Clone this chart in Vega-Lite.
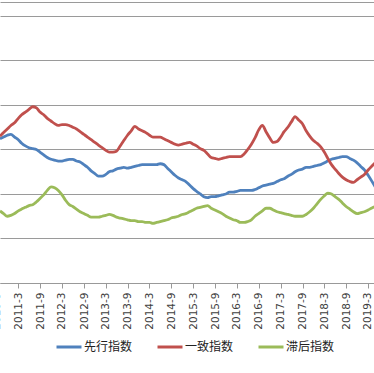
{
"$schema": "https://vega.github.io/schema/vega-lite/v6.json",
"width": 374, "height": 281,
"autosize": {"type": "none"},
"padding": {"top": 2, "left": 0, "right": 0, "bottom": 90},
"background": "white",
"config": {"view": {"stroke": null}, "font": "DejaVu Sans"},
"data": {"values": [
{"d":"2010/09/01","先行指数":101.2,"一致指数":101.5,"滞后指数":93.1},
{"d":"2010/10/01","先行指数":101.4,"一致指数":101.9,"滞后指数":92.8},
{"d":"2010/11/01","先行指数":101.6,"一致指数":102.3,"滞后指数":92.5},
{"d":"2010/12/01","先行指数":101.7,"一致指数":102.7,"滞后指数":92.6},
{"d":"2011/01/01","先行指数":101.4,"一致指数":103.0,"滞后指数":92.8},
{"d":"2011/02/01","先行指数":101.1,"一致指数":103.5,"滞后指数":93.1},
{"d":"2011/03/01","先行指数":100.7,"一致指数":103.9,"滞后指数":93.3},
{"d":"2011/04/01","先行指数":100.4,"一致指数":104.2,"滞后指数":93.5},
{"d":"2011/05/01","先行指数":100.2,"一致指数":104.5,"滞后指数":93.7},
{"d":"2011/06/01","先行指数":100.1,"一致指数":104.8,"滞后指数":93.8},
{"d":"2011/07/01","先行指数":100.0,"一致指数":104.7,"滞后指数":94.1},
{"d":"2011/08/01","先行指数":99.7,"一致指数":104.2,"滞后指数":94.5},
{"d":"2011/09/01","先行指数":99.4,"一致指数":103.9,"滞后指数":94.9},
{"d":"2011/10/01","先行指数":99.1,"一致指数":103.5,"滞后指数":95.4},
{"d":"2011/11/01","先行指数":98.9,"一致指数":103.2,"滞后指数":95.8},
{"d":"2011/12/01","先行指数":98.8,"一致指数":102.9,"滞后指数":95.7},
{"d":"2012/01/01","先行指数":98.7,"一致指数":102.7,"滞后指数":95.4},
{"d":"2012/02/01","先行指数":98.7,"一致指数":102.8,"滞后指数":94.9},
{"d":"2012/03/01","先行指数":98.8,"一致指数":102.8,"滞后指数":94.3},
{"d":"2012/04/01","先行指数":98.9,"一致指数":102.7,"滞后指数":93.8},
{"d":"2012/05/01","先行指数":98.9,"一致指数":102.5,"滞后指数":93.6},
{"d":"2012/06/01","先行指数":98.7,"一致指数":102.3,"滞后指数":93.3},
{"d":"2012/07/01","先行指数":98.6,"一致指数":102.0,"滞后指数":93.0},
{"d":"2012/08/01","先行指数":98.3,"一致指数":101.7,"滞后指数":92.8},
{"d":"2012/09/01","先行指数":98.0,"一致指数":101.4,"滞后指数":92.6},
{"d":"2012/10/01","先行指数":97.6,"一致指数":101.1,"滞后指数":92.4},
{"d":"2012/11/01","先行指数":97.3,"一致指数":100.8,"滞后指数":92.4},
{"d":"2012/12/01","先行指数":97.0,"一致指数":100.5,"滞后指数":92.4},
{"d":"2013/01/01","先行指数":97.0,"一致指数":100.2,"滞后指数":92.5},
{"d":"2013/02/01","先行指数":97.2,"一致指数":99.9,"滞后指数":92.6},
{"d":"2013/03/01","先行指数":97.5,"一致指数":99.7,"滞后指数":92.7},
{"d":"2013/04/01","先行指数":97.6,"一致指数":99.7,"滞后指数":92.6},
{"d":"2013/05/01","先行指数":97.8,"一致指数":99.8,"滞后指数":92.4},
{"d":"2013/06/01","先行指数":97.9,"一致指数":100.4,"滞后指数":92.3},
{"d":"2013/07/01","先行指数":98.0,"一致指数":101.0,"滞后指数":92.2},
{"d":"2013/08/01","先行指数":97.9,"一致指数":101.6,"滞后指数":92.1},
{"d":"2013/09/01","先行指数":98.0,"一致指数":102.1,"滞后指数":92.0},
{"d":"2013/10/01","先行指数":98.1,"一致指数":102.6,"滞后指数":92.0},
{"d":"2013/11/01","先行指数":98.2,"一致指数":102.3,"滞后指数":91.9},
{"d":"2013/12/01","先行指数":98.3,"一致指数":102.1,"滞后指数":91.9},
{"d":"2014/01/01","先行指数":98.3,"一致指数":101.9,"滞后指数":91.8},
{"d":"2014/02/01","先行指数":98.3,"一致指数":101.6,"滞后指数":91.8},
{"d":"2014/03/01","先行指数":98.3,"一致指数":101.4,"滞后指数":91.7},
{"d":"2014/04/01","先行指数":98.3,"一致指数":101.4,"滞后指数":91.8},
{"d":"2014/05/01","先行指数":98.4,"一致指数":101.4,"滞后指数":91.9},
{"d":"2014/06/01","先行指数":98.3,"一致指数":101.2,"滞后指数":92.0},
{"d":"2014/07/01","先行指数":97.9,"一致指数":101.0,"滞后指数":92.1},
{"d":"2014/08/01","先行指数":97.5,"一致指数":100.8,"滞后指数":92.3},
{"d":"2014/09/01","先行指数":97.1,"一致指数":100.6,"滞后指数":92.4},
{"d":"2014/10/01","先行指数":96.8,"一致指数":100.5,"滞后指数":92.5},
{"d":"2014/11/01","先行指数":96.6,"一致指数":100.6,"滞后指数":92.7},
{"d":"2014/12/01","先行指数":96.4,"一致指数":100.7,"滞后指数":92.8},
{"d":"2015/01/01","先行指数":96.0,"一致指数":100.8,"滞后指数":93.0},
{"d":"2015/02/01","先行指数":95.6,"一致指数":100.6,"滞后指数":93.2},
{"d":"2015/03/01","先行指数":95.3,"一致指数":100.4,"滞后指数":93.4},
{"d":"2015/04/01","先行指数":95.0,"一致指数":100.1,"滞后指数":93.5},
{"d":"2015/05/01","先行指数":94.7,"一致指数":99.9,"滞后指数":93.6},
{"d":"2015/06/01","先行指数":94.6,"一致指数":99.5,"滞后指数":93.7},
{"d":"2015/07/01","先行指数":94.7,"一致指数":99.1,"滞后指数":93.4},
{"d":"2015/08/01","先行指数":94.7,"一致指数":99.0,"滞后指数":93.2},
{"d":"2015/09/01","先行指数":94.8,"一致指数":98.9,"滞后指数":93.0},
{"d":"2015/10/01","先行指数":94.9,"一致指数":99.0,"滞后指数":92.8},
{"d":"2015/11/01","先行指数":95.0,"一致指数":99.1,"滞后指数":92.5},
{"d":"2015/12/01","先行指数":95.2,"一致指数":99.2,"滞后指数":92.3},
{"d":"2016/01/01","先行指数":95.2,"一致指数":99.2,"滞后指数":92.1},
{"d":"2016/02/01","先行指数":95.3,"一致指数":99.2,"滞后指数":92.0},
{"d":"2016/03/01","先行指数":95.4,"一致指数":99.2,"滞后指数":91.8},
{"d":"2016/04/01","先行指数":95.4,"一致指数":99.5,"滞后指数":91.8},
{"d":"2016/05/01","先行指数":95.4,"一致指数":100.0,"滞后指数":91.9},
{"d":"2016/06/01","先行指数":95.4,"一致指数":100.6,"滞后指数":92.1},
{"d":"2016/07/01","先行指数":95.5,"一致指数":101.3,"滞后指数":92.5},
{"d":"2016/08/01","先行指数":95.7,"一致指数":102.2,"滞后指数":92.8},
{"d":"2016/09/01","先行指数":95.9,"一致指数":102.7,"滞后指数":93.1},
{"d":"2016/10/01","先行指数":96.0,"一致指数":102.0,"滞后指数":93.4},
{"d":"2016/11/01","先行指数":96.1,"一致指数":101.3,"滞后指数":93.4},
{"d":"2016/12/01","先行指数":96.2,"一致指数":100.8,"滞后指数":93.2},
{"d":"2017/01/01","先行指数":96.4,"一致指数":100.9,"滞后指数":93.0},
{"d":"2017/02/01","先行指数":96.6,"一致指数":101.4,"滞后指数":92.9},
{"d":"2017/03/01","先行指数":96.7,"一致指数":102.0,"滞后指数":92.8},
{"d":"2017/04/01","先行指数":97.0,"一致指数":102.5,"滞后指数":92.7},
{"d":"2017/05/01","先行指数":97.2,"一致指数":103.1,"滞后指数":92.6},
{"d":"2017/06/01","先行指数":97.5,"一致指数":103.7,"滞后指数":92.5},
{"d":"2017/07/01","先行指数":97.7,"一致指数":103.3,"滞后指数":92.5},
{"d":"2017/08/01","先行指数":97.8,"一致指数":102.9,"滞后指数":92.5},
{"d":"2017/09/01","先行指数":98.0,"一致指数":102.1,"滞后指数":92.7},
{"d":"2017/10/01","先行指数":98.0,"一致指数":101.5,"滞后指数":93.0},
{"d":"2017/11/01","先行指数":98.1,"一致指数":101.0,"滞后指数":93.4},
{"d":"2017/12/01","先行指数":98.2,"一致指数":100.7,"滞后指数":93.9},
{"d":"2018/01/01","先行指数":98.3,"一致指数":100.3,"滞后指数":94.4},
{"d":"2018/02/01","先行指数":98.5,"一致指数":99.7,"滞后指数":94.8},
{"d":"2018/03/01","先行指数":98.7,"一致指数":99.0,"滞后指数":95.1},
{"d":"2018/04/01","先行指数":98.9,"一致指数":98.3,"滞后指数":95.0},
{"d":"2018/05/01","先行指数":99.0,"一致指数":97.8,"滞后指数":94.7},
{"d":"2018/06/01","先行指数":99.1,"一致指数":97.3,"滞后指数":94.4},
{"d":"2018/07/01","先行指数":99.2,"一致指数":96.9,"滞后指数":94.0},
{"d":"2018/08/01","先行指数":99.2,"一致指数":96.6,"滞后指数":93.6},
{"d":"2018/09/01","先行指数":99.0,"一致指数":96.4,"滞后指数":93.3},
{"d":"2018/10/01","先行指数":98.8,"一致指数":96.3,"滞后指数":93.0},
{"d":"2018/11/01","先行指数":98.5,"一致指数":96.6,"滞后指数":92.8},
{"d":"2018/12/01","先行指数":98.1,"一致指数":96.9,"滞后指数":92.9},
{"d":"2019/01/01","先行指数":97.7,"一致指数":97.2,"滞后指数":93.0},
{"d":"2019/02/01","先行指数":97.1,"一致指数":97.7,"滞后指数":93.2},
{"d":"2019/03/01","先行指数":96.5,"一致指数":98.1,"滞后指数":93.4},
{"d":"2019/04/01","先行指数":95.8,"一致指数":98.5,"滞后指数":93.6}
]},
"transform": [{"fold": ["先行指数", "一致指数", "滞后指数"], "as": ["系列", "值"]}],
"mark": {"type": "line", "strokeWidth": 2.8, "clip": true, "interpolate": "monotone"},
"encoding": {
  "x": {"field": "d", "type": "temporal",
    "scale": {"domain": [{"year": 2010, "month": 9, "date": 1}, {"year": 2019, "month": 3, "date": 22}]},
    "axis": {"title": null,
      "values": [{"year":2010,"month":9,"date":1},{"year":2011,"month":3,"date":1},{"year":2011,"month":9,"date":1},{"year":2012,"month":3,"date":1},{"year":2012,"month":9,"date":1},{"year":2013,"month":3,"date":1},{"year":2013,"month":9,"date":1},{"year":2014,"month":3,"date":1},{"year":2014,"month":9,"date":1},{"year":2015,"month":3,"date":1},{"year":2015,"month":9,"date":1},{"year":2016,"month":3,"date":1},{"year":2016,"month":9,"date":1},{"year":2017,"month":3,"date":1},{"year":2017,"month":9,"date":1},{"year":2018,"month":3,"date":1},{"year":2018,"month":9,"date":1},{"year":2019,"month":3,"date":1}],
      "format": "%Y-%-m", "labelAngle": 270, "labelAlign": "right", "labelBaseline": "middle",
      "labelFont": "DejaVu Sans", "labelFontSize": 10.5, "labelColor": "#404040", "labelPadding": 4,
      "labelOverlap": false, "labelBound": false, "labelFlush": false,
      "tickSize": 5, "tickColor": "#999999", "tickOffset": -3.5, "domainColor": "#999999", "grid": false}},
  "y": {"field": "值", "type": "quantitative",
    "scale": {"domain": [85, 116.57], "nice": false, "zero": false},
    "axis": {"title": null, "labels": false, "ticks": false, "domain": false,
      "values": [85, 90, 95, 100, 105, 110, 115, 116.57], "gridColor": "#9a9a9a", "gridWidth": 1}},
  "color": {"field": "系列", "type": "nominal",
    "scale": {"domain": ["先行指数", "一致指数", "滞后指数"], "range": ["#4F81BD", "#C0504D", "#9BBB59"]},
    "legend": {"title": null, "orient": "none", "legendX": 55, "legendY": 331, "direction": "horizontal",
      "symbolType": "stroke", "symbolSize": 625, "symbolStrokeWidth": 3,
      "labelFont": "Noto Sans CJK SC", "labelFontSize": 12, "labelColor": "#222222", "labelOffset": 1, "columnPadding": 18}}
}
}
